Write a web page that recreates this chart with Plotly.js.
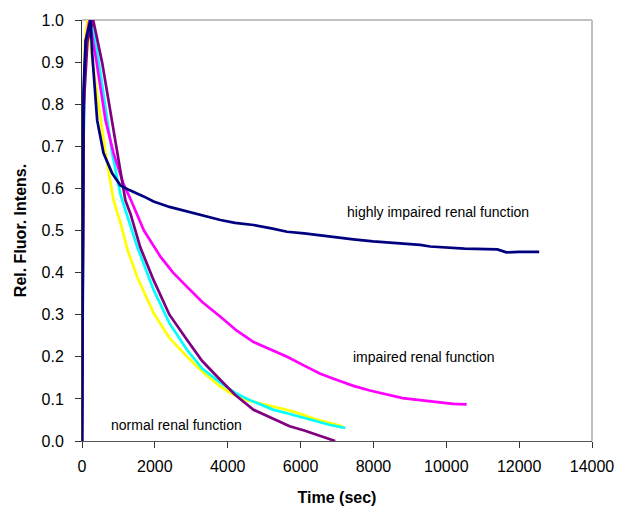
<!DOCTYPE html>
<html>
<head>
<meta charset="utf-8">
<script src="https://cdn.plot.ly/plotly-3.0.1.min.js"></script>
<style>html,body{margin:0;padding:0;background:#fff;}#chart{width:622px;height:508px;}</style>
</head>
<body>
<div id="chart"></div>
<script>
// Time (sec) and relative fluorescence intensity
const navyT = [0, 40, 100, 233, 280, 417, 590, 828, 1056, 1300, 1690, 1966, 2400, 2885, 3300, 3800, 4200, 4710, 5200, 5630, 6100, 6540, 7000, 7450, 7990, 8370, 8650, 9280, 9560, 10500, 11400, 11650, 12000, 12550];
const navyV = [0, 0.83, 0.95, 1.0, 0.92, 0.762, 0.684, 0.636, 0.607, 0.596, 0.581, 0.569, 0.556, 0.545, 0.535, 0.525, 0.518, 0.513, 0.505, 0.497, 0.493, 0.489, 0.484, 0.479, 0.474, 0.472, 0.469, 0.466, 0.462, 0.457, 0.455, 0.448, 0.449, 0.449];

const magT = [0, 40, 100, 205, 400, 645, 865, 1140, 1330, 1700, 2153, 2500, 2885, 3300, 3800, 4250, 4710, 5200, 5630, 6100, 6540, 7000, 7450, 7900, 8370, 8800, 9280, 9700, 10190, 10560];
const magV = [0, 0.75, 0.95, 1.0, 0.9, 0.762, 0.684, 0.61, 0.575, 0.5, 0.438, 0.4, 0.366, 0.33, 0.295, 0.262, 0.235, 0.216, 0.2, 0.179, 0.16, 0.145, 0.131, 0.12, 0.11, 0.102, 0.097, 0.093, 0.088, 0.087];

const cyanT = [0, 40, 100, 280, 460, 690, 828, 1056, 1300, 1513, 1966, 2400, 2885, 3300, 3800, 4200, 4530, 5260, 5630, 6200, 6815, 7230];
const cyanV = [0, 0.7, 0.95, 1.0, 0.9, 0.762, 0.684, 0.585, 0.52, 0.462, 0.359, 0.28, 0.216, 0.172, 0.138, 0.115, 0.1, 0.074, 0.066, 0.052, 0.038, 0.031];

const yelT = [0, 30, 80, 150, 290, 527, 645, 865, 1056, 1250, 1513, 1966, 2400, 2885, 3300, 3800, 4100, 4530, 5100, 5800, 6400, 7150];
const yelV = [0, 0.7, 0.95, 1.0, 0.9, 0.762, 0.684, 0.572, 0.518, 0.454, 0.39, 0.304, 0.245, 0.2, 0.165, 0.129, 0.113, 0.097, 0.085, 0.07, 0.052, 0.035];

const purT = [0, 50, 150, 307, 550, 828, 975, 1190, 1330, 1600, 1966, 2400, 2885, 3300, 3800, 4200, 4710, 5200, 5700, 6100, 6500, 6950];
const purV = [0, 0.8, 0.95, 1.0, 0.9, 0.762, 0.684, 0.572, 0.54, 0.46, 0.382, 0.3, 0.24, 0.19, 0.145, 0.11, 0.074, 0.055, 0.035, 0.025, 0.013, 0.0];

const xTicks = [0, 2000, 4000, 6000, 8000, 10000, 12000, 14000];
const yTicks = [0, 0.1, 0.2, 0.3, 0.4, 0.5, 0.6, 0.7, 0.8, 0.9, 1.0];
const yTickText = ["0.0", "0.1", "0.2", "0.3", "0.4", "0.5", "0.6", "0.7", "0.8", "0.9", "1.0"];

const labels = [
  {text: "highly impaired renal function", x: 9764, y: 0.544},
  {text: "impaired renal function", x: 9394, y: 0.2},
  {text: "normal renal function", x: 2606, y: 0.038}
];

function tr(x, y, color) {
  return {x: x, y: y, type: "scatter", mode: "lines", line: {color: color, width: 2.7}, hoverinfo: "skip", showlegend: false};
}

const data = [
  tr(yelT, yelV, "#FFFF00"),
  tr(cyanT, cyanV, "#00FFFF"),
  tr(magT, magV, "#FF00FF"),
  tr(purT, purV, "#800080"),
  tr(navyT, navyV, "#000080")
];

const layout = {
  width: 622, height: 508,
  margin: {l: 81.5, r: 30, t: 20, b: 67},
  paper_bgcolor: "#fff", plot_bgcolor: "#fff",
  font: {family: "Liberation Sans, Arial, sans-serif", color: "#000"},
  showlegend: false,
  xaxis: {
    range: [0, 14000], tickvals: xTicks, ticktext: xTicks.map(String),
    showgrid: false, zeroline: false, showline: true, linecolor: "#555", linewidth: 1,
    ticks: "outside", ticklen: 6, tickcolor: "#333", ticklabelstandoff: 5,
    tickfont: {size: 16},
    title: {text: "<b>Time (sec)</b>", font: {size: 16}, standoff: 17}
  },
  yaxis: {
    range: [0, 1.0], tickvals: yTicks, ticktext: yTickText,
    showgrid: false, zeroline: false, showline: true, linecolor: "#333", linewidth: 1,
    ticks: "outside", ticklen: 6, tickcolor: "#333", ticklabelstandoff: 8,
    tickfont: {size: 16},
    title: {text: "<b>Rel. Fluor. Intens.</b>", font: {size: 16}, standoff: 10}
  },
  shapes: [
    {type: "line", xref: "paper", yref: "paper", x0: 0, x1: 1, y0: 1, y1: 1, line: {color: "#c0c0c0", width: 2}, layer: "below"},
    {type: "line", xref: "paper", yref: "paper", x0: 1, x1: 1, y0: 0, y1: 1, line: {color: "#c0c0c0", width: 2}, layer: "below"}
  ],
  annotations: labels.map(l => ({text: l.text, x: l.x, y: l.y, xref: "x", yref: "y", showarrow: false, font: {size: 14, color: "#000"}}))
};

Plotly.newPlot("chart", data, layout, {staticPlot: true, displayModeBar: false});
</script>
</body>
</html>
